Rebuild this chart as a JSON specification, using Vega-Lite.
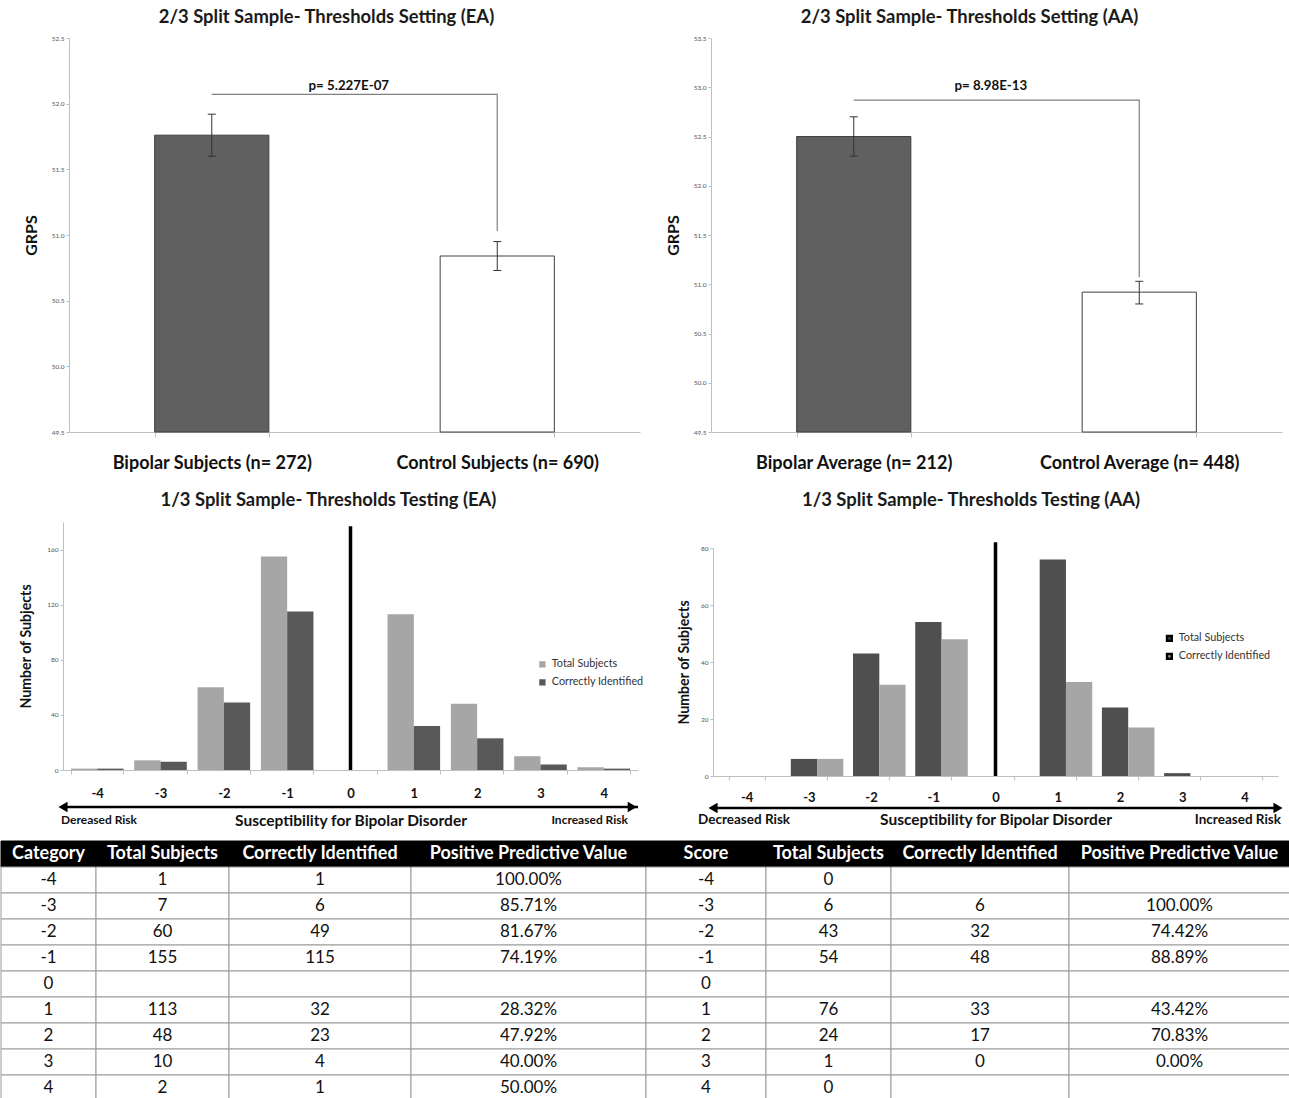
{
 "$schema": "https://vega.github.io/schema/vega-lite/v6.json",
 "background": "white",
 "padding": {"left": 0, "top": 7, "right": 0, "bottom": 0},
 "config": {
  "font": "Lato",
  "view": {"stroke": null},
  "axis": {"grid": false, "domainColor": "#bfbfbf", "tickColor": "#bfbfbf", "labelColor": "#000", "labelOverlap": false, "labelSeparation": 0, "labelBound": false},
  "axisY": {"labelOverlap": false},
  "axisQuantitative": {"labelOverlap": false},
  "title": {"fontSize": 18.4, "fontWeight": "bold", "color": "#1a1a1a", "frame": "bounds"}
 },
 "resolve": {"scale": {"color": "independent", "fill": "independent"}, "legend": {"color": "independent", "fill": "independent"}},
 "datasets": {
  "ea_bars": [
   {"group": "Bipolar Subjects (n= 272)", "grps": 51.76, "lo": 51.6, "hi": 51.92},
   {"group": "Control Subjects (n= 690)", "grps": 50.84, "lo": 50.73, "hi": 50.95}
  ],
  "ea_br": [
   {"group": "Bipolar Subjects (n= 272)", "v": 52.07, "k": 1},
   {"group": "Control Subjects (n= 690)", "v": 52.07, "k": 2},
   {"group": "Control Subjects (n= 690)", "v": 51.03, "k": 3}
  ],
  "aa_bars": [
   {"group": "Bipolar Average (n= 212)", "grps": 52.5, "lo": 52.3, "hi": 52.7},
   {"group": "Control Average (n= 448)", "grps": 50.92, "lo": 50.8, "hi": 51.03}
  ],
  "aa_br": [
   {"group": "Bipolar Average (n= 212)", "v": 52.87, "k": 1},
   {"group": "Control Average (n= 448)", "v": 52.87, "k": 2},
   {"group": "Control Average (n= 448)", "v": 51.07, "k": 3}
  ],
  "ea_hist": [
   {"cat": -4, "series": "Total Subjects", "n": 1}, {"cat": -4, "series": "Correctly Identified", "n": 1},
   {"cat": -3, "series": "Total Subjects", "n": 7}, {"cat": -3, "series": "Correctly Identified", "n": 6},
   {"cat": -2, "series": "Total Subjects", "n": 60}, {"cat": -2, "series": "Correctly Identified", "n": 49},
   {"cat": -1, "series": "Total Subjects", "n": 155}, {"cat": -1, "series": "Correctly Identified", "n": 115},
   {"cat": 1, "series": "Total Subjects", "n": 113}, {"cat": 1, "series": "Correctly Identified", "n": 32},
   {"cat": 2, "series": "Total Subjects", "n": 48}, {"cat": 2, "series": "Correctly Identified", "n": 23},
   {"cat": 3, "series": "Total Subjects", "n": 10}, {"cat": 3, "series": "Correctly Identified", "n": 4},
   {"cat": 4, "series": "Total Subjects", "n": 2}, {"cat": 4, "series": "Correctly Identified", "n": 1}
  ],
  "aa_hist": [
   {"cat": -4, "series": "Total Subjects", "n": 0},
   {"cat": -3, "series": "Total Subjects", "n": 6}, {"cat": -3, "series": "Correctly Identified", "n": 6},
   {"cat": -2, "series": "Total Subjects", "n": 43}, {"cat": -2, "series": "Correctly Identified", "n": 32},
   {"cat": -1, "series": "Total Subjects", "n": 54}, {"cat": -1, "series": "Correctly Identified", "n": 48},
   {"cat": 1, "series": "Total Subjects", "n": 76}, {"cat": 1, "series": "Correctly Identified", "n": 33},
   {"cat": 2, "series": "Total Subjects", "n": 24}, {"cat": 2, "series": "Correctly Identified", "n": 17},
   {"cat": 3, "series": "Total Subjects", "n": 1}, {"cat": 3, "series": "Correctly Identified", "n": 0},
   {"cat": 4, "series": "Total Subjects", "n": 0}
  ],
  "ea_tab": [
   {"r": "h", "c1": "Category", "c2": "Total Subjects", "c3": "Correctly Identified", "c4": "Positive Predictive Value"},
   {"r": "-4", "c1": "-4", "c2": "1", "c3": "1", "c4": "100.00%"},
   {"r": "-3", "c1": "-3", "c2": "7", "c3": "6", "c4": "85.71%"},
   {"r": "-2", "c1": "-2", "c2": "60", "c3": "49", "c4": "81.67%"},
   {"r": "-1", "c1": "-1", "c2": "155", "c3": "115", "c4": "74.19%"},
   {"r": "0", "c1": "0", "c2": "", "c3": "", "c4": ""},
   {"r": "1", "c1": "1", "c2": "113", "c3": "32", "c4": "28.32%"},
   {"r": "2", "c1": "2", "c2": "48", "c3": "23", "c4": "47.92%"},
   {"r": "3", "c1": "3", "c2": "10", "c3": "4", "c4": "40.00%"},
   {"r": "4", "c1": "4", "c2": "2", "c3": "1", "c4": "50.00%"}
  ],
  "aa_tab": [
   {"r": "h", "c1": "Score", "c2": "Total Subjects", "c3": "Correctly Identified", "c4": "Positive Predictive Value"},
   {"r": "-4", "c1": "-4", "c2": "0", "c3": "", "c4": ""},
   {"r": "-3", "c1": "-3", "c2": "6", "c3": "6", "c4": "100.00%"},
   {"r": "-2", "c1": "-2", "c2": "43", "c3": "32", "c4": "74.42%"},
   {"r": "-1", "c1": "-1", "c2": "54", "c3": "48", "c4": "88.89%"},
   {"r": "0", "c1": "0", "c2": "", "c3": "", "c4": ""},
   {"r": "1", "c1": "1", "c2": "76", "c3": "33", "c4": "43.42%"},
   {"r": "2", "c1": "2", "c2": "24", "c3": "17", "c4": "70.83%"},
   {"r": "3", "c1": "3", "c2": "1", "c3": "0", "c4": "0.00%"},
   {"r": "4", "c1": "4", "c2": "0", "c3": "", "c4": ""}
  ]
 },
 "vconcat": [
  {"vconcat": [
   {"hconcat": [
    {
     "width": 639, "height": 394,
     "title": {"text": "2/3 Split Sample- Thresholds Setting (EA)", "offset": 9, "dx": 6},
     "layer": [
      {"layer": [
        {"data": {"name": "ea_bars"}, "mark": {"type": "bar", "stroke": "#404040", "strokeWidth": 1},
         "encoding": {
          "y": {"field": "grps", "type": "quantitative", "scale": {"domain": [49.5, 52.5], "zero": false, "nice": false},
                "axis": {"offset": -68, "values": [49.5, 50, 50.5, 51, 51.5, 52, 52.5], "format": ".1f", "labelOverlap": false, "labelFontSize": 6.5, "labelColor": "#555", "tickSize": 3, "labelPadding": 2, "title": "GRPS", "titleFontSize": 16, "titleFontWeight": "bold", "titleColor": "#111", "titlePadding": 12}},
          "y2": {"datum": 49.5},
          "fill": {"field": "group", "type": "nominal", "scale": {"domain": ["Bipolar Subjects (n= 272)", "Control Subjects (n= 690)"], "range": ["#606060", "#ffffff"]}, "legend": null}
         }},
        {"data": {"name": "ea_bars"}, "mark": {"type": "rule", "color": "#333", "strokeWidth": 1},
         "encoding": {"y": {"field": "lo", "type": "quantitative", "scale": {"domain": [49.5, 52.5]}}, "y2": {"field": "hi"}}},
        {"data": {"name": "ea_bars"}, "mark": {"type": "tick", "color": "#333", "size": 8, "thickness": 1, "opacity": 1},
         "encoding": {"y": {"field": "lo", "type": "quantitative", "scale": {"domain": [49.5, 52.5]}}}},
        {"data": {"name": "ea_bars"}, "mark": {"type": "tick", "color": "#333", "size": 8, "thickness": 1, "opacity": 1},
         "encoding": {"y": {"field": "hi", "type": "quantitative", "scale": {"domain": [49.5, 52.5]}}}},
        {"data": {"name": "ea_br"}, "mark": {"type": "line", "color": "#808080", "strokeWidth": 1.2},
         "encoding": {"y": {"field": "v", "type": "quantitative", "scale": {"domain": [49.5, 52.5]}}, "order": {"field": "k", "type": "quantitative"}}}
       ],
       "encoding": {"x": {"field": "group", "type": "nominal", "scale": {"domain": ["Bipolar Subjects (n= 272)", "Control Subjects (n= 690)"], "range": [68, 639], "paddingInner": 0.6, "paddingOuter": 0.3},
        "axis": {"title": null, "labelAngle": 0, "labelLimit": 0, "labelFontSize": 18, "labelFontWeight": "bold", "labelColor": "#111", "tickBand": "extent", "tickSize": 5, "labelPadding": 17}}}
      },
      {"data": {"values": [{"label": "p= 5.227E-07"}]}, "mark": {"type": "text", "fontSize": 13.3, "fontWeight": "bold", "color": "#111", "baseline": "middle"},
       "encoding": {"x": {"datum": 0.49, "type": "quantitative", "scale": {"domain": [0, 1], "range": [68, 639]}, "axis": null},
                    "y": {"datum": 52.135, "type": "quantitative", "scale": {"domain": [49.5, 52.5]}},
                    "text": {"field": "label"}}}
     ],
     "resolve": {"scale": {"x": "independent"}}
    },
    {
     "width": 571, "height": 394,
     "title": {"text": "2/3 Split Sample- Thresholds Setting (AA)", "offset": 9, "dx": -4},
     "layer": [
      {"layer": [
        {"data": {"name": "aa_bars"}, "mark": {"type": "bar", "stroke": "#404040", "strokeWidth": 1},
         "encoding": {
          "y": {"field": "grps", "type": "quantitative", "scale": {"domain": [49.5, 53.5], "zero": false, "nice": false},
                "axis": {"values": [49.5, 50, 50.5, 51, 51.5, 52, 52.5, 53, 53.5], "format": ".1f", "labelOverlap": false, "labelFontSize": 6.5, "labelColor": "#555", "tickSize": 3, "labelPadding": 2, "title": "GRPS", "titleFontSize": 16, "titleFontWeight": "bold", "titleColor": "#111", "titlePadding": 12}},
          "y2": {"datum": 49.5},
          "fill": {"field": "group", "type": "nominal", "scale": {"domain": ["Bipolar Average (n= 212)", "Control Average (n= 448)"], "range": ["#606060", "#ffffff"]}, "legend": null}
         }},
        {"data": {"name": "aa_bars"}, "mark": {"type": "rule", "color": "#333", "strokeWidth": 1},
         "encoding": {"y": {"field": "lo", "type": "quantitative", "scale": {"domain": [49.5, 53.5]}}, "y2": {"field": "hi"}}},
        {"data": {"name": "aa_bars"}, "mark": {"type": "tick", "color": "#333", "size": 8, "thickness": 1, "opacity": 1},
         "encoding": {"y": {"field": "lo", "type": "quantitative", "scale": {"domain": [49.5, 53.5]}}}},
        {"data": {"name": "aa_bars"}, "mark": {"type": "tick", "color": "#333", "size": 8, "thickness": 1, "opacity": 1},
         "encoding": {"y": {"field": "hi", "type": "quantitative", "scale": {"domain": [49.5, 53.5]}}}},
        {"data": {"name": "aa_br"}, "mark": {"type": "line", "color": "#808080", "strokeWidth": 1.2},
         "encoding": {"y": {"field": "v", "type": "quantitative", "scale": {"domain": [49.5, 53.5]}}, "order": {"field": "k", "type": "quantitative"}}}
       ],
       "encoding": {"x": {"field": "group", "type": "nominal", "scale": {"domain": ["Bipolar Average (n= 212)", "Control Average (n= 448)"], "paddingInner": 0.6, "paddingOuter": 0.3},
        "axis": {"title": null, "labelAngle": 0, "labelLimit": 0, "labelFontSize": 18, "labelFontWeight": "bold", "labelColor": "#111", "tickBand": "extent", "tickSize": 5, "labelPadding": 17}}}
      },
      {"data": {"values": [{"label": "p= 8.98E-13"}]}, "mark": {"type": "text", "fontSize": 13.3, "fontWeight": "bold", "color": "#111", "baseline": "middle"},
       "encoding": {"x": {"datum": 0.49, "type": "quantitative", "scale": {"domain": [0, 1]}, "axis": null},
                    "y": {"datum": 53.01, "type": "quantitative", "scale": {"domain": [49.5, 53.5]}},
                    "text": {"field": "label"}}}
     ],
     "resolve": {"scale": {"x": "independent"}}
    }
   ], "spacing": 25, "resolve": {"scale": {"color": "independent", "fill": "independent"}, "legend": {"color": "independent", "fill": "independent"}}},
   {"hconcat": [
    {
     "width": 637, "height": 248,
     "title": {"text": "1/3 Split Sample- Thresholds Testing (EA)", "offset": 13, "dx": 6},
     "layer": [
      {"layer": [
        {"data": {"name": "ea_hist"}, "mark": {"type": "bar"},
         "encoding": {
          "xOffset": {"field": "series", "type": "nominal", "scale": {"domain": ["Total Subjects", "Correctly Identified"], "paddingInner": 0, "paddingOuter": 0}},
          "y": {"field": "n", "type": "quantitative", "scale": {"domain": [0, 180], "nice": false},
                "axis": {"offset": -62, "values": [0, 20, 40, 60, 80, 100, 120, 140, 160, 180], "labelOverlap": false, "labelSeparation": 0, "labelFontSize": 6.5, "labelColor": "#555", "tickSize": 3, "labelPadding": 2, "title": "Number of Subjects", "titleFontSize": 14.2, "titleFontWeight": "bold", "titleColor": "#111", "titlePadding": 13}},
          "color": {"field": "series", "type": "nominal", "scale": {"domain": ["Total Subjects", "Correctly Identified"], "range": ["#a6a6a6", "#595959"]},
                    "legend": {"orient": "none", "legendX": 536, "legendY": 137, "title": null, "labelFontSize": 10.8, "labelColor": "#333", "symbolType": "square", "symbolSize": 40, "rowPadding": 6}}
         }},
        {"data": {"values": [{}]}, "mark": {"type": "rule", "color": "#000", "strokeWidth": 3.5},
         "encoding": {"x": {"datum": 0, "type": "ordinal"}, "y": {"datum": 0, "type": "quantitative", "scale": {"domain": [0, 180]}}, "y2": {"datum": 177}}}
       ],
       "encoding": {"x": {"field": "cat", "type": "ordinal", "scale": {"domain": [-4, -3, -2, -1, 0, 1, 2, 3, 4], "range": [62, 637], "paddingInner": 0.17, "paddingOuter": 0.125},
        "axis": {"title": "Susceptibility for Bipolar Disorder", "titleFontSize": 15.5, "titleFontWeight": "bold", "titleColor": "#111", "titlePadding": 12.5, "labelAngle": 0, "labelFontSize": 13, "labelFontWeight": "bold", "labelColor": "#111", "tickBand": "extent", "tickSize": 4, "labelPadding": 13.5}}}
      },
      {"data": {"values": [{}]}, "mark": {"type": "rule", "color": "#000", "strokeWidth": 2.5},
       "encoding": {"x": {"datum": 0, "type": "quantitative", "scale": {"domain": [0, 1], "range": [62, 637]}, "axis": null}, "x2": {"datum": 1},
                    "y": {"datum": -26.9, "type": "quantitative", "scale": {"domain": [0, 180]}}}},
      {"data": {"values": [{}]}, "mark": {"type": "point", "shape": "triangle-left", "filled": true, "size": 110, "color": "#000", "opacity": 1},
       "encoding": {"x": {"datum": 0, "type": "quantitative", "scale": {"domain": [0, 1], "range": [62, 637]}, "axis": null},
                    "y": {"datum": -26.9, "type": "quantitative", "scale": {"domain": [0, 180]}}}},
      {"data": {"values": [{}]}, "mark": {"type": "point", "shape": "triangle-right", "filled": true, "size": 110, "color": "#000", "opacity": 1},
       "encoding": {"x": {"datum": 0.99, "type": "quantitative", "scale": {"domain": [0, 1], "range": [62, 637]}, "axis": null},
                    "y": {"datum": -26.9, "type": "quantitative", "scale": {"domain": [0, 180]}}}},
      {"data": {"values": [{}]}, "mark": {"type": "text", "align": "left", "baseline": "middle", "fontSize": 12, "fontWeight": "bold", "color": "#111", "dx": -2},
       "encoding": {"x": {"datum": 0, "type": "quantitative", "scale": {"domain": [0, 1], "range": [62, 637]}, "axis": null},
                    "y": {"datum": -36.3, "type": "quantitative", "scale": {"domain": [0, 180]}},
                    "text": {"value": "Dereased Risk"}}},
      {"data": {"values": [{}]}, "mark": {"type": "text", "align": "right", "baseline": "middle", "fontSize": 12, "fontWeight": "bold", "color": "#111", "dx": -10},
       "encoding": {"x": {"datum": 1, "type": "quantitative", "scale": {"domain": [0, 1], "range": [62, 637]}, "axis": null},
                    "y": {"datum": -36.3, "type": "quantitative", "scale": {"domain": [0, 180]}},
                    "text": {"value": "Increased Risk"}}}
     ],
     "resolve": {"scale": {"x": "independent"}}
    },
    {
     "width": 565, "height": 254,
     "title": {"text": "1/3 Split Sample- Thresholds Testing (AA)", "offset": 13, "dx": -9},
     "layer": [
      {"layer": [
        {"data": {"name": "aa_hist"}, "mark": {"type": "bar"},
         "encoding": {
          "xOffset": {"field": "series", "type": "nominal", "scale": {"domain": ["Total Subjects", "Correctly Identified"], "paddingInner": 0, "paddingOuter": 0}},
          "y": {"field": "n", "type": "quantitative", "scale": {"domain": [0, 80], "nice": false, "range": [254, 26]},
                "axis": {"values": [0, 10, 20, 30, 40, 50, 60, 70, 80], "labelOverlap": false, "labelSeparation": 0, "labelFontSize": 6.5, "labelColor": "#555", "tickSize": 3, "labelPadding": 2, "title": "Number of Subjects", "titleFontSize": 14.2, "titleFontWeight": "bold", "titleColor": "#111", "titlePadding": 9}},
          "color": {"field": "series", "type": "nominal", "scale": {"domain": ["Total Subjects", "Correctly Identified"], "range": ["#4f4f4f", "#a6a6a6"]},
                    "legend": {"orient": "none", "legendX": 451, "legendY": 111, "title": null, "labelFontSize": 10.8, "labelColor": "#333", "symbolType": "square", "symbolSize": 22, "rowPadding": 3,
                               "encode": {"symbols": {"update": {"fill": {"value": "#000"}, "stroke": {"value": "#000"}, "strokeWidth": {"value": 2.5}}}}}}
         }},
        {"data": {"values": [{}]}, "mark": {"type": "rule", "color": "#000", "strokeWidth": 3.5},
         "encoding": {"x": {"datum": 0, "type": "ordinal"}, "y": {"datum": 0, "type": "quantitative", "scale": {"domain": [0, 80], "range": [254, 26]}}, "y2": {"datum": 82}}}
       ],
       "encoding": {"x": {"field": "cat", "type": "ordinal", "scale": {"domain": [-4, -3, -2, -1, 0, 1, 2, 3, 4], "paddingInner": 0.42, "paddingOuter": 0.25},
        "axis": {"title": "Susceptibility for Bipolar Disorder", "titleFontSize": 15.5, "titleFontWeight": "bold", "titleColor": "#111", "titlePadding": 7.5, "labelAngle": 0, "labelFontSize": 13, "labelFontWeight": "bold", "labelColor": "#111", "tickBand": "extent", "tickSize": 4, "labelPadding": 11.5}}}
      },
      {"data": {"values": [{}]}, "mark": {"type": "rule", "color": "#000", "strokeWidth": 2.5},
       "encoding": {"x": {"datum": 0, "type": "quantitative", "scale": {"domain": [0, 1]}, "axis": null}, "x2": {"datum": 1},
                    "y": {"datum": -11.2, "type": "quantitative", "scale": {"domain": [0, 80], "range": [254, 26]}}}},
      {"data": {"values": [{}]}, "mark": {"type": "point", "shape": "triangle-left", "filled": true, "size": 110, "color": "#000", "opacity": 1},
       "encoding": {"x": {"datum": 0, "type": "quantitative", "scale": {"domain": [0, 1]}, "axis": null},
                    "y": {"datum": -11.2, "type": "quantitative", "scale": {"domain": [0, 80], "range": [254, 26]}}}},
      {"data": {"values": [{}]}, "mark": {"type": "point", "shape": "triangle-right", "filled": true, "size": 110, "color": "#000", "opacity": 1},
       "encoding": {"x": {"datum": 1, "type": "quantitative", "scale": {"domain": [0, 1]}, "axis": null},
                    "y": {"datum": -11.2, "type": "quantitative", "scale": {"domain": [0, 80], "range": [254, 26]}}}},
      {"data": {"values": [{}]}, "mark": {"type": "text", "align": "left", "baseline": "middle", "fontSize": 13.5, "fontWeight": "bold", "color": "#111", "dx": -15},
       "encoding": {"x": {"datum": 0, "type": "quantitative", "scale": {"domain": [0, 1]}, "axis": null},
                    "y": {"datum": -15.4, "type": "quantitative", "scale": {"domain": [0, 80], "range": [254, 26]}},
                    "text": {"value": "Decreased Risk"}}},
      {"data": {"values": [{}]}, "mark": {"type": "text", "align": "right", "baseline": "middle", "fontSize": 13.5, "fontWeight": "bold", "color": "#111", "dx": 3},
       "encoding": {"x": {"datum": 1, "type": "quantitative", "scale": {"domain": [0, 1]}, "axis": null},
                    "y": {"datum": -15.4, "type": "quantitative", "scale": {"domain": [0, 80], "range": [254, 26]}},
                    "text": {"value": "Increased Risk"}}}
     ],
     "resolve": {"scale": {"x": "independent"}}
    }
   ], "spacing": 33, "resolve": {"scale": {"color": "independent", "fill": "independent"}, "legend": {"color": "independent", "fill": "independent"}}}
  ], "spacing": 18, "resolve": {"scale": {"color": "independent", "fill": "independent"}, "legend": {"color": "independent", "fill": "independent"}}},
  {"hconcat": [
   {"width": 95, "height": 260, "data": {"name": "ea_tab"},
    "encoding": {"y": {"field": "r", "type": "nominal", "scale": {"domain": ["h", "-4", "-3", "-2", "-1", "0", "1", "2", "3", "4"], "paddingInner": 0, "paddingOuter": 0}, "axis": null}},
    "layer": [
     {"mark": {"type": "rect", "strokeWidth": 1}, "encoding": {"fill": {"condition": {"test": "datum.r === 'h'", "value": "#000"}, "value": "#fff"}, "stroke": {"condition": {"test": "datum.r === 'h'", "value": "#000"}, "value": "#9a9a9a"}}},
     {"transform": [{"filter": "datum.r === 'h'"}], "mark": {"type": "text", "color": "#fff", "fontWeight": "bold", "fontSize": 18}, "encoding": {"text": {"field": "c1"}}},
     {"transform": [{"filter": "datum.r !== 'h'"}], "mark": {"type": "text", "color": "#111", "fontSize": 17}, "encoding": {"text": {"field": "c1"}}}
    ]},
   {"width": 133, "height": 260, "data": {"name": "ea_tab"},
    "encoding": {"y": {"field": "r", "type": "nominal", "scale": {"domain": ["h", "-4", "-3", "-2", "-1", "0", "1", "2", "3", "4"], "paddingInner": 0, "paddingOuter": 0}, "axis": null}},
    "layer": [
     {"mark": {"type": "rect", "strokeWidth": 1}, "encoding": {"fill": {"condition": {"test": "datum.r === 'h'", "value": "#000"}, "value": "#fff"}, "stroke": {"condition": {"test": "datum.r === 'h'", "value": "#000"}, "value": "#9a9a9a"}}},
     {"transform": [{"filter": "datum.r === 'h'"}], "mark": {"type": "text", "color": "#fff", "fontWeight": "bold", "fontSize": 18}, "encoding": {"text": {"field": "c2"}}},
     {"transform": [{"filter": "datum.r !== 'h'"}], "mark": {"type": "text", "color": "#111", "fontSize": 17}, "encoding": {"text": {"field": "c2"}}}
    ]},
   {"width": 182, "height": 260, "data": {"name": "ea_tab"},
    "encoding": {"y": {"field": "r", "type": "nominal", "scale": {"domain": ["h", "-4", "-3", "-2", "-1", "0", "1", "2", "3", "4"], "paddingInner": 0, "paddingOuter": 0}, "axis": null}},
    "layer": [
     {"mark": {"type": "rect", "strokeWidth": 1}, "encoding": {"fill": {"condition": {"test": "datum.r === 'h'", "value": "#000"}, "value": "#fff"}, "stroke": {"condition": {"test": "datum.r === 'h'", "value": "#000"}, "value": "#9a9a9a"}}},
     {"transform": [{"filter": "datum.r === 'h'"}], "mark": {"type": "text", "color": "#fff", "fontWeight": "bold", "fontSize": 18}, "encoding": {"text": {"field": "c3"}}},
     {"transform": [{"filter": "datum.r !== 'h'"}], "mark": {"type": "text", "color": "#111", "fontSize": 17}, "encoding": {"text": {"field": "c3"}}}
    ]},
   {"width": 235, "height": 260, "data": {"name": "ea_tab"},
    "encoding": {"y": {"field": "r", "type": "nominal", "scale": {"domain": ["h", "-4", "-3", "-2", "-1", "0", "1", "2", "3", "4"], "paddingInner": 0, "paddingOuter": 0}, "axis": null}},
    "layer": [
     {"mark": {"type": "rect", "strokeWidth": 1}, "encoding": {"fill": {"condition": {"test": "datum.r === 'h'", "value": "#000"}, "value": "#fff"}, "stroke": {"condition": {"test": "datum.r === 'h'", "value": "#000"}, "value": "#9a9a9a"}}},
     {"transform": [{"filter": "datum.r === 'h'"}], "mark": {"type": "text", "color": "#fff", "fontWeight": "bold", "fontSize": 18}, "encoding": {"text": {"field": "c4"}}},
     {"transform": [{"filter": "datum.r !== 'h'"}], "mark": {"type": "text", "color": "#111", "fontSize": 17}, "encoding": {"text": {"field": "c4"}}}
    ]},
   {"width": 120, "height": 260, "data": {"name": "aa_tab"},
    "encoding": {"y": {"field": "r", "type": "nominal", "scale": {"domain": ["h", "-4", "-3", "-2", "-1", "0", "1", "2", "3", "4"], "paddingInner": 0, "paddingOuter": 0}, "axis": null}},
    "layer": [
     {"mark": {"type": "rect", "strokeWidth": 1}, "encoding": {"fill": {"condition": {"test": "datum.r === 'h'", "value": "#000"}, "value": "#fff"}, "stroke": {"condition": {"test": "datum.r === 'h'", "value": "#000"}, "value": "#9a9a9a"}}},
     {"transform": [{"filter": "datum.r === 'h'"}], "mark": {"type": "text", "color": "#fff", "fontWeight": "bold", "fontSize": 18}, "encoding": {"text": {"field": "c1"}}},
     {"transform": [{"filter": "datum.r !== 'h'"}], "mark": {"type": "text", "color": "#111", "fontSize": 17}, "encoding": {"text": {"field": "c1"}}}
    ]},
   {"width": 125, "height": 260, "data": {"name": "aa_tab"},
    "encoding": {"y": {"field": "r", "type": "nominal", "scale": {"domain": ["h", "-4", "-3", "-2", "-1", "0", "1", "2", "3", "4"], "paddingInner": 0, "paddingOuter": 0}, "axis": null}},
    "layer": [
     {"mark": {"type": "rect", "strokeWidth": 1}, "encoding": {"fill": {"condition": {"test": "datum.r === 'h'", "value": "#000"}, "value": "#fff"}, "stroke": {"condition": {"test": "datum.r === 'h'", "value": "#000"}, "value": "#9a9a9a"}}},
     {"transform": [{"filter": "datum.r === 'h'"}], "mark": {"type": "text", "color": "#fff", "fontWeight": "bold", "fontSize": 18}, "encoding": {"text": {"field": "c2"}}},
     {"transform": [{"filter": "datum.r !== 'h'"}], "mark": {"type": "text", "color": "#111", "fontSize": 17}, "encoding": {"text": {"field": "c2"}}}
    ]},
   {"width": 178, "height": 260, "data": {"name": "aa_tab"},
    "encoding": {"y": {"field": "r", "type": "nominal", "scale": {"domain": ["h", "-4", "-3", "-2", "-1", "0", "1", "2", "3", "4"], "paddingInner": 0, "paddingOuter": 0}, "axis": null}},
    "layer": [
     {"mark": {"type": "rect", "strokeWidth": 1}, "encoding": {"fill": {"condition": {"test": "datum.r === 'h'", "value": "#000"}, "value": "#fff"}, "stroke": {"condition": {"test": "datum.r === 'h'", "value": "#000"}, "value": "#9a9a9a"}}},
     {"transform": [{"filter": "datum.r === 'h'"}], "mark": {"type": "text", "color": "#fff", "fontWeight": "bold", "fontSize": 18}, "encoding": {"text": {"field": "c3"}}},
     {"transform": [{"filter": "datum.r !== 'h'"}], "mark": {"type": "text", "color": "#111", "fontSize": 17}, "encoding": {"text": {"field": "c3"}}}
    ]},
   {"width": 221, "height": 260, "data": {"name": "aa_tab"},
    "encoding": {"y": {"field": "r", "type": "nominal", "scale": {"domain": ["h", "-4", "-3", "-2", "-1", "0", "1", "2", "3", "4"], "paddingInner": 0, "paddingOuter": 0}, "axis": null}},
    "layer": [
     {"mark": {"type": "rect", "strokeWidth": 1}, "encoding": {"fill": {"condition": {"test": "datum.r === 'h'", "value": "#000"}, "value": "#fff"}, "stroke": {"condition": {"test": "datum.r === 'h'", "value": "#000"}, "value": "#9a9a9a"}}},
     {"transform": [{"filter": "datum.r === 'h'"}], "mark": {"type": "text", "color": "#fff", "fontWeight": "bold", "fontSize": 18}, "encoding": {"text": {"field": "c4"}}},
     {"transform": [{"filter": "datum.r !== 'h'"}], "mark": {"type": "text", "color": "#111", "fontSize": 17}, "encoding": {"text": {"field": "c4"}}}
    ]}
  ], "spacing": 0, "bounds": "flush", "resolve": {"scale": {"fill": "independent", "stroke": "independent"}}}
 ],
 "spacing": 11
}
